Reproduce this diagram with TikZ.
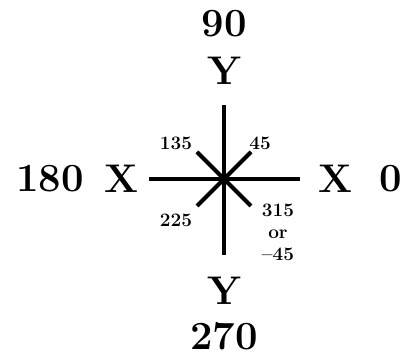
\documentclass[tikz,border=0pt]{standalone}
\usepackage{tikz}
\usetikzlibrary{positioning, calc}

\begin{document}
\begin{tikzpicture}[
    x=1pt, y=1pt,
    every node/.style={align=center, inner sep=0pt},
    biglabel/.style={font=\fontsize{40}{44}\selectfont\bfseries},
    smalllabel/.style={font=\fontsize{19}{22}\selectfont\bfseries},
    axisline/.style={line width=4pt}
]
    \useasboundingbox (-224,-179) rectangle (185,179);

    % Centre and line ends
    \coordinate (c) at (0,0);
    \coordinate (n) at (0,74);
    \coordinate (s) at (0,-76);
    \coordinate (w) at (-75,0);
    \coordinate (e) at (76,0);
    \coordinate (ne) at (27,27);
    \coordinate (sw) at (-27,-27);
    \coordinate (nw) at (-27,27);
    \coordinate (se) at (27,-27);

    % Axes
    \draw[axisline] (n) -- (s);
    \draw[axisline] (w) -- (e);
    \draw[axisline] (ne) -- (sw);
    \draw[axisline] (nw) -- (se);

    % Axis labels
    \node[biglabel] (yTop) at (0,108) {Y};
    \node[biglabel] (ninety) at (0,155) {90};
    \node[biglabel] (yBot) at (0,-112) {Y};
    \node[biglabel] (twoSeventy) at (0,-157) {270};
    \node[biglabel] (xLeft) at (-102,0) {X};
    \node[biglabel] (oneEighty) at (-174,0) {180};
    \node[biglabel] (xRight) at (111,0) {X};
    \node[biglabel] (zero) at (167,0) {0};

    % Diagonal labels
    \node[smalllabel] (deg135) at (-48,36) {135};
    \node[smalllabel] (deg45) at (36,36) {45};
    \node[smalllabel] (deg225) at (-48,-41) {225};
    \node[smalllabel, anchor=north] (deg315) at (54,-25) {
        315\\
        or\\
        --45
    };
\end{tikzpicture}
\end{document}
